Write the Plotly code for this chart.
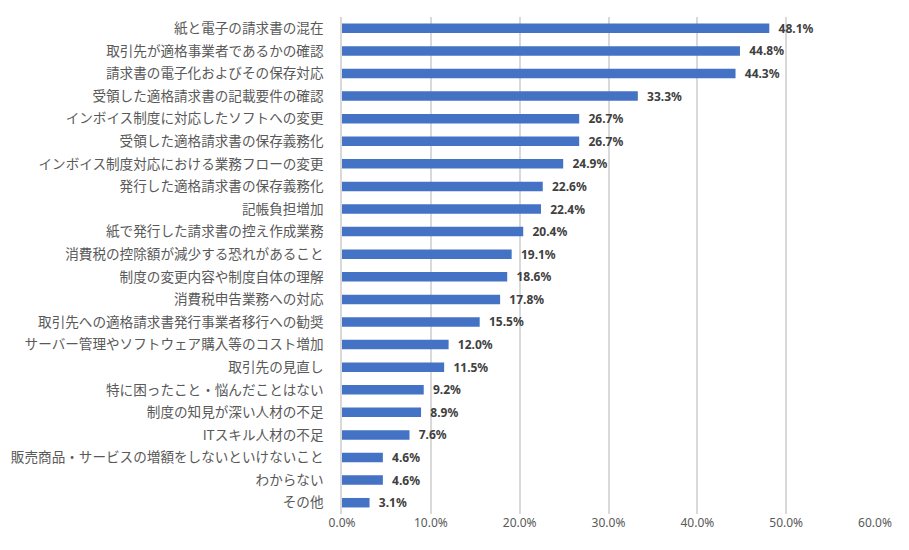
import plotly.graph_objects as go

# 回答項目（上から順）
categories = [
    "紙と電子の請求書の混在",
    "取引先が適格事業者であるかの確認",
    "請求書の電子化およびその保存対応",
    "受領した適格請求書の記載要件の確認",
    "インボイス制度に対応したソフトへの変更",
    "受領した適格請求書の保存義務化",
    "インボイス制度対応における業務フローの変更",
    "発行した適格請求書の保存義務化",
    "記帳負担増加",
    "紙で発行した請求書の控え作成業務",
    "消費税の控除額が減少する恐れがあること",
    "制度の変更内容や制度自体の理解",
    "消費税申告業務への対応",
    "取引先への適格請求書発行事業者移行への勧奨",
    "サーバー管理やソフトウェア購入等のコスト増加",
    "取引先の見直し",
    "特に困ったこと・悩んだことはない",
    "制度の知見が深い人材の不足",
    "ITスキル人材の不足",
    "販売商品・サービスの増額をしないといけないこと",
    "わからない",
    "その他",
]
values = [48.1, 44.8, 44.3, 33.3, 26.7, 26.7, 24.9, 22.6, 22.4, 20.4, 19.1,
          18.6, 17.8, 15.5, 12.0, 11.5, 9.2, 8.9, 7.6, 4.6, 4.6, 3.1]
tick_vals = [0, 10, 20, 30, 40, 50, 60]
tick_text = [f"{t:.1f}%" for t in tick_vals]

fig = go.Figure(go.Bar(
    x=values,
    y=categories,
    orientation="h",
    width=0.42,
    marker=dict(color="#4472C4", line=dict(width=0)),
    text=[f"  {v:.1f}%" for v in values],
    textposition="outside",
    constraintext="none",
    textfont=dict(family="Noto Sans, sans-serif", size=12, color="#404040", weight="bold"),
    cliponaxis=False,
))

# page body has an 8px margin, so the figure is sized to fit the window
fig.update_layout(
    width=901, height=542,
    margin=dict(l=334, r=34, t=9, b=36),
    plot_bgcolor="white", paper_bgcolor="white",
    showlegend=False,
    font=dict(family="Noto Sans CJK JP, sans-serif", color="#595959"),
)
fig.update_xaxes(
    range=[0, 60], tickvals=tick_vals, ticktext=tick_text,
    showgrid=True, gridcolor="#d9d9d9", gridwidth=1.5,
    zeroline=False, showline=False, automargin=False,
    tickfont=dict(size=12, color="#595959", family="Noto Sans, sans-serif"),
)
fig.update_yaxes(
    autorange="reversed", categoryorder="array", categoryarray=categories,
    showline=True, linecolor="#d9d9d9", linewidth=1.5,
    ticks="", ticklabelstandoff=14, automargin=False,
    tickfont=dict(size=13.6, color="#595959"),
)

fig.write_html("out.html")
